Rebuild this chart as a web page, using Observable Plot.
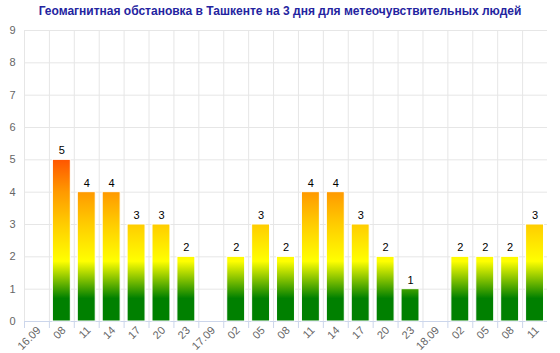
<!DOCTYPE html>
<html>
<head>
<meta charset="utf-8">
<script src="https://cdn.jsdelivr.net/npm/d3@7"></script>
<script src="https://cdn.jsdelivr.net/npm/@observablehq/plot@0.6"></script>
<style>
  html, body { margin: 0; padding: 0; background: #fff; }
  body { width: 560px; height: 353px; overflow: hidden; font-family: "Liberation Sans", Arial, sans-serif; }
  #title { height: 26px; line-height: 23px; text-align: center; font-weight: bold; font-size: 12px; color: #2424a0; padding-left: 0; }
  svg { display: block; overflow: visible; }
</style>
</head>
<body>
<div id="title">Геомагнитная обстановка в Ташкенте на 3 дня для метеочувствительных людей</div>
<div id="chart"></div>
<script>
const slotLabels = ["16.09","08","11","14","17","20","23","17.09","02","05","08","11","14","17","20","23","18.09","02","05","08","11"];
const kpValues = [null,5,4,4,3,3,2,null,2,3,2,4,4,3,2,1,null,2,2,2,3];
const yTicks = [0,1,2,3,4,5,6,7,8,9];
const gradientStops = [
  {v: 0, color: "#008000"},
  {v: 0.7, color: "#008000"},
  {v: 1.85, color: "#ffff00"},
  {v: 3, color: "#ffcc00"},
  {v: 4, color: "#ff9900"},
  {v: 5, color: "#ff5500"}
];

const rows = slotLabels.map((label, i) => ({slot: i, label, value: kpValues[i]}));
const bars = rows.filter(d => d.value != null);

const W = 560, H = 327, mL = 24, mR = 13, mT = 4, mB = 32;
const step = (W - mL - mR) / slotLabels.length;

// gradient defined in data space (y 0..5) via the y scale
function gradientDefs(index, scales) {
  const ns = "http://www.w3.org/2000/svg";
  const defs = document.createElementNS(ns, "defs");
  const lg = document.createElementNS(ns, "linearGradient");
  lg.setAttribute("id", "geoGrad");
  lg.setAttribute("gradientUnits", "userSpaceOnUse");
  const vmax = gradientStops[gradientStops.length - 1].v;
  lg.setAttribute("x1", 0); lg.setAttribute("x2", 0);
  lg.setAttribute("y1", scales.y(0)); lg.setAttribute("y2", scales.y(vmax));
  for (const s of gradientStops) {
    const st = document.createElementNS(ns, "stop");
    st.setAttribute("offset", s.v / vmax);
    st.setAttribute("stop-color", s.color);
    lg.appendChild(st);
  }
  defs.appendChild(lg);
  return defs;
}

const plot = Plot.plot({
  width: W, height: H,
  marginLeft: mL, marginRight: mR, marginTop: mT, marginBottom: mB,
  style: {fontFamily: "'Liberation Sans', Arial, sans-serif", fontSize: "11px", background: "#fff"},
  x: {type: "band", domain: rows.map(d => d.slot), paddingInner: 0.28, paddingOuter: 0.14, round: false, axis: null, label: null},
  y: {domain: [0, 9], axis: null, label: null},
  marks: [
    gradientDefs,
    Plot.gridY(yTicks, {stroke: "#e6e6e6", strokeOpacity: 1}),
    Plot.ruleX(rows, {x: "slot", y1: 0, y2: 9, dx: -step / 2, stroke: "#e6e6e6", strokeOpacity: 1}),
    Plot.ruleX(rows, {x: "slot", y1: 0, y2: 0, insetBottom: -7, dx: -step / 2, stroke: "#ccd6eb"}),
    Plot.ruleY([0], {stroke: "#ccd6eb"}),
    Plot.barY(bars, {x: "slot", y: "value", fill: "url(#geoGrad)", stroke: "#fff", strokeWidth: 1}),
    Plot.text(bars, {x: "slot", y: "value", text: d => String(d.value), dy: -9, fill: "#000", fontSize: 11, lineAnchor: "middle"}),
    Plot.axisY(yTicks, {tickSize: 0, tickPadding: 9, fill: "#666", fontSize: 11, label: null}),
    Plot.axisX({tickSize: 0, tickRotate: -45, tickPadding: 7, dx: 2, tickFormat: i => slotLabels[i], fill: "#666", fontSize: 11, label: null})
  ]
});
document.getElementById("chart").appendChild(plot);
</script>
</body>
</html>
